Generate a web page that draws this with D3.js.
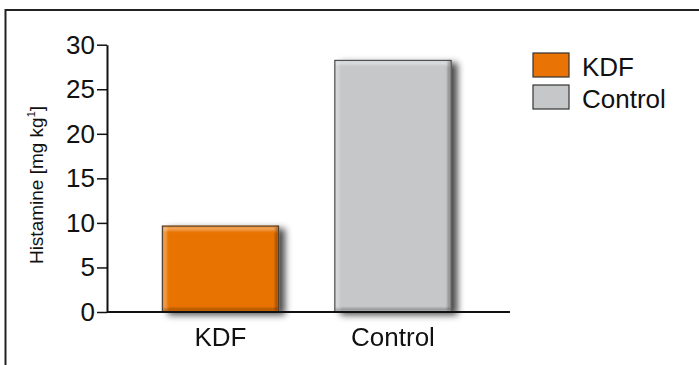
<!DOCTYPE html>
<html>
<head>
<meta charset="utf-8">
<script src="https://cdn.jsdelivr.net/npm/d3@7"></script>
<style>
  html, body { margin: 0; padding: 0; background: #fff; }
  svg { display: block; font-family: "Liberation Sans", Arial, Helvetica, sans-serif; }
</style>
</head>
<body>
<svg id="chart" width="699" height="365"></svg>
<script>
// Histamine content by treatment group
const categories = ["KDF", "Control"];
const values = [9.7, 28.3];
const colors = ["#E97305", "#C6C7C9"];
const yTicks = [0, 5, 10, 15, 20, 25, 30];
const yLabel = "Histamine [mg kg";
const yLabelSup = "1";
const yLabelEnd = "]";

const svg = d3.select("#chart");
const W = 699, H = 365;

// frame
svg.append("rect")
  .attr("x", 5.5).attr("y", 10)
  .attr("width", W + 20).attr("height", H + 20)
  .attr("fill", "#fff").attr("stroke", "#222").attr("stroke-width", 2);

const axisX = 107, axisRight = 510;
const y = d3.scaleLinear().domain([0, 30]).range([312, 44.7]);
const x = d3.scaleBand().domain(categories)
  .range([134.25, 479.25]).paddingInner(0.32).paddingOuter(0.16);

const defs = svg.append("defs");
const shadow = defs.append("filter").attr("id", "shadow")
  .attr("x", "-20%").attr("y", "-20%").attr("width", "150%").attr("height", "150%");
shadow.append("feDropShadow")
  .attr("dx", 6).attr("dy", 3).attr("stdDeviation", 3.5)
  .attr("flood-color", "#000").attr("flood-opacity", 0.7);
const soft = defs.append("filter").attr("id", "soft");
soft.append("feGaussianBlur").attr("stdDeviation", 0.8);

// bars
const bars = svg.append("g").selectAll("g").data(categories).join("g");
bars.append("rect")
  .attr("x", d => x(d)).attr("y", (d, i) => y(values[i]))
  .attr("width", x.bandwidth()).attr("height", (d, i) => y(0) - y(values[i]))
  .attr("fill", (d, i) => colors[i])
  .attr("filter", "url(#shadow)");

// bevel highlights and shading
const bevel = bars.append("g").attr("filter", "url(#soft)");
bevel.append("rect")
  .attr("x", d => x(d) + 1).attr("y", (d, i) => y(values[i]) + 1)
  .attr("width", x.bandwidth() - 2).attr("height", 4)
  .attr("fill", "#fff").attr("opacity", 0.35);
bevel.append("rect")
  .attr("x", d => x(d) + 1).attr("y", (d, i) => y(values[i]) + 1)
  .attr("width", 4).attr("height", (d, i) => y(0) - y(values[i]) - 2)
  .attr("fill", "#fff").attr("opacity", 0.3);
bevel.append("rect")
  .attr("x", d => x(d) + x.bandwidth() - 4).attr("y", (d, i) => y(values[i]) + 1)
  .attr("width", 3).attr("height", (d, i) => y(0) - y(values[i]) - 2)
  .attr("fill", "#000").attr("opacity", 0.3);
bevel.append("rect")
  .attr("x", d => x(d) + 1).attr("y", y(0) - 4)
  .attr("width", x.bandwidth() - 2).attr("height", 3)
  .attr("fill", "#000").attr("opacity", 0.25);

bars.append("rect")
  .attr("x", d => x(d) + 0.5).attr("y", (d, i) => y(values[i]) + 0.5)
  .attr("width", x.bandwidth() - 1).attr("height", (d, i) => y(0) - y(values[i]) - 1)
  .attr("fill", "none").attr("stroke", "#3a3a3a").attr("stroke-width", 1);

// y axis
const yAxis = svg.append("g")
  .attr("transform", `translate(${axisX},0)`)
  .call(d3.axisLeft(y).tickValues(yTicks).tickSize(10).tickPadding(2).tickSizeOuter(0));
yAxis.select(".domain").attr("stroke", "#111").attr("stroke-width", 2);
yAxis.selectAll(".tick line").attr("stroke", "#111").attr("stroke-width", 1.5);
yAxis.selectAll(".tick text")
  .attr("font-size", 26).attr("fill", "#111")
  .attr("font-family", "'Liberation Sans', Arial, sans-serif");

// x axis
const xAxis = svg.append("g")
  .attr("transform", `translate(0,${y(0)})`);
xAxis.append("line")
  .attr("x1", axisX).attr("x2", axisRight)
  .attr("stroke", "#111").attr("stroke-width", 2);
xAxis.selectAll("text").data(categories).join("text")
  .attr("x", d => x(d) + x.bandwidth() / 2)
  .attr("y", 34)
  .attr("text-anchor", "middle")
  .attr("font-size", 26).attr("fill", "#111")
  .text(d => d);

// y axis title
const title = svg.append("text")
  .attr("transform", `translate(43,${y(0) - 127}) rotate(-90)`)
  .attr("text-anchor", "middle")
  .attr("font-size", 19).attr("fill", "#111");
title.append("tspan").text(yLabel);
title.append("tspan").attr("font-size", 11).attr("dy", -8).text(yLabelSup);
title.append("tspan").attr("dy", 8).text(yLabelEnd);

// legend
const legend = svg.append("g").attr("transform", "translate(533,53)");
const li = legend.selectAll("g").data(categories).join("g")
  .attr("transform", (d, i) => `translate(0,${i * 32})`);
li.append("rect")
  .attr("width", 36).attr("height", 24)
  .attr("fill", (d, i) => colors[i])
  .attr("stroke", "#333").attr("stroke-width", 1.2);
li.append("text")
  .attr("x", 49).attr("y", 23)
  .attr("font-size", 26).attr("fill", "#111")
  .text(d => d);
</script>
</body>
</html>
